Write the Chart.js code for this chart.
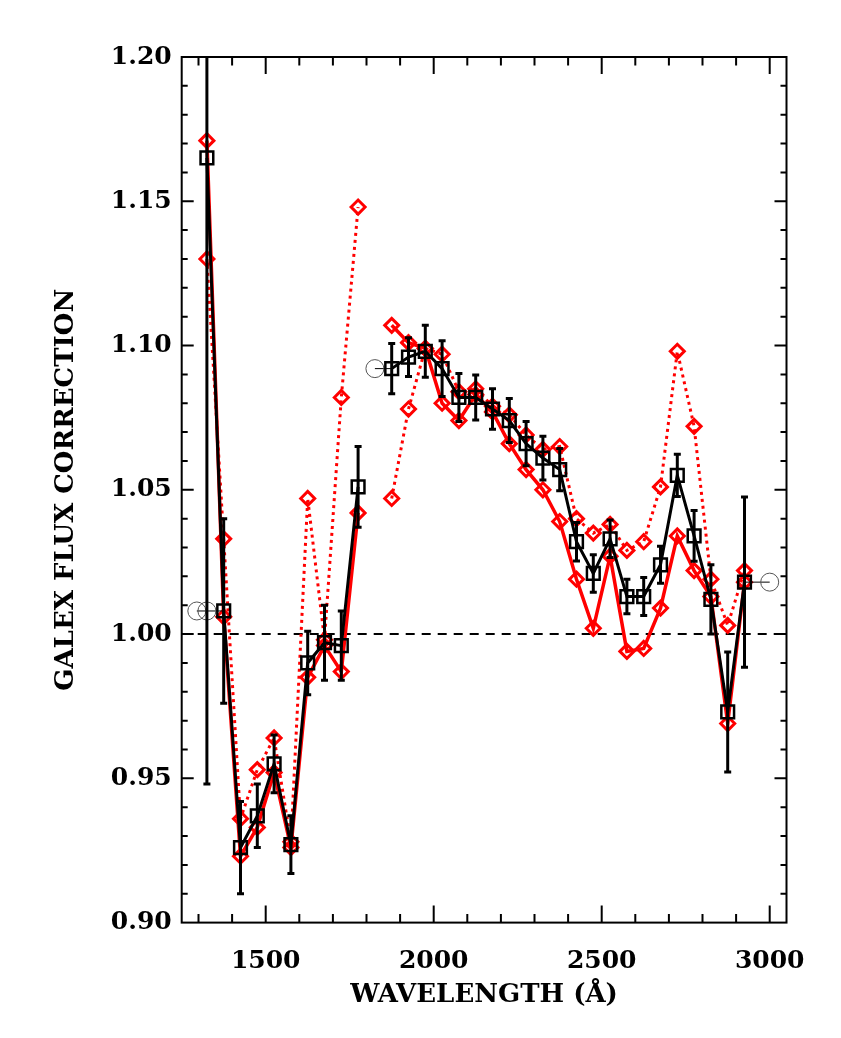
<!DOCTYPE html>
<html>
<head>
<meta charset="utf-8">
<script src="https://cdn.jsdelivr.net/npm/chart.js@4.4.1/dist/chart.umd.min.js"></script>
<style>
  html, body { margin: 0; padding: 0; background: #fff; }
  #wrap { width: 841px; height: 1038px; }
</style>
</head>
<body>
<div id="wrap"><canvas id="chart" width="841" height="1038"></canvas></div>
<script>
// FUV bins
const fuvWave = [1325, 1375, 1425, 1475, 1525, 1575, 1625, 1675, 1725, 1775];
const fuvCorr = [1.165, 1.008, 0.926, 0.937, 0.955, 0.927, 0.990, 0.997, 0.996, 1.051];
const fuvErr = [0.217, 0.032, 0.016, 0.011, 0.010, 0.010, 0.011, 0.013, 0.012, 0.014];
const fuvRedSolid = [1.171, 1.006, 0.923, 0.933, 0.952, 0.926, 0.985, 0.996, 0.987, 1.042];
const fuvRedDotted = [1.130, 1.033, 0.936, 0.953, 0.964, 0.928, 1.047, 0.998, 1.082, 1.148];

// NUV bins
const nuvWave = [1875, 1925, 1975, 2025, 2075, 2125, 2175, 2225, 2275, 2325, 2375,
                 2425, 2475, 2525, 2575, 2625, 2675, 2725, 2775, 2825, 2875, 2925];
const nuvCorr = [1.092, 1.096, 1.098, 1.092, 1.082, 1.082, 1.078, 1.074, 1.066, 1.061, 1.057,
                 1.032, 1.021, 1.033, 1.013, 1.013, 1.024, 1.055, 1.034, 1.012, 0.973, 1.018];
const nuvErr = [0.0087, 0.0067, 0.009, 0.0097, 0.0083, 0.0078, 0.007, 0.0076, 0.0077, 0.0076, 0.0073,
                0.0067, 0.0065, 0.0065, 0.006, 0.0066, 0.0064, 0.0073, 0.0088, 0.012, 0.0208, 0.0295];
const nuvRedSolid = [1.107, 1.101, 1.099, 1.080, 1.074, 1.083, 1.077, 1.066, 1.057, 1.050, 1.039,
                     1.019, 1.002, 1.027, 0.994, 0.995, 1.009, 1.034, 1.022, 1.013, 0.969, 1.018];
const nuvRedDotted = [1.047, 1.078, 1.099, 1.097, 1.084, 1.085, 1.079, 1.076, 1.069, 1.064, 1.065,
                      1.040, 1.035, 1.038, 1.029, 1.032, 1.051, 1.098, 1.072, 1.019, 1.003, 1.022];

// extension points (open circles)
const extWave = [1295, 1325, 1825, 3000];
const extCorr = [1.008, 1.008, 1.092, 1.018];

const yTicks = [0.90, 0.95, 1.00, 1.05, 1.10, 1.15, 1.20];
const xTicks = [1500, 2000, 2500, 3000];

const pts = (xs, ys) => xs.map((v, i) => ({x: v, y: ys[i]}));
const RED = '#ff0000';
const FONT = 'DejaVu Serif';

function squares(data) {
  return { data: data, showLine: true, borderColor: '#000', borderWidth: 3,
    pointStyle: 'rect', pointRadius: 9, pointBorderWidth: 2.5,
    pointBorderColor: '#000', pointBackgroundColor: 'rgba(0,0,0,0)' };
}
function diamonds(data, dotted) {
  return { data: data, showLine: true, borderColor: RED, borderWidth: dotted ? 3 : 3.5,
    borderDash: dotted ? [3, 4] : [],
    pointStyle: 'rectRot', pointRadius: 7, pointBorderWidth: 3,
    pointBorderColor: RED, pointBackgroundColor: 'rgba(0,0,0,0)' };
}
function circles(data, radii) {
  return { data: data, showLine: true, borderColor: '#000', borderWidth: 1,
    pointStyle: 'circle', pointRadius: radii, pointBorderWidth: 1,
    pointBorderColor: '#555', pointBackgroundColor: 'rgba(0,0,0,0)' };
}

const errorBars = {
  id: 'errorBars',
  beforeDatasetsDraw(chart) {
    const {ctx, chartArea: a, scales: {y}} = chart;
    const py = y.getPixelForValue(1.0);
    ctx.save();
    ctx.strokeStyle = '#000';
    ctx.lineWidth = 2;
    ctx.setLineDash([9, 7]);
    ctx.beginPath();
    ctx.moveTo(a.left, py);
    ctx.lineTo(a.right, py);
    ctx.stroke();
    ctx.restore();
  },
  afterDatasetsDraw(chart) {
    const {ctx, chartArea: a, scales: {x, y}} = chart;
    ctx.save();
    ctx.beginPath();
    ctx.rect(a.left, a.top, a.right - a.left, a.bottom - a.top);
    ctx.clip();
    ctx.strokeStyle = '#000';
    ctx.lineWidth = 3;
    const draw = (ws, cs, es) => {
      ws.forEach((w, i) => {
        const px = x.getPixelForValue(w);
        const top = y.getPixelForValue(cs[i] + es[i]);
        const bot = y.getPixelForValue(cs[i] - es[i]);
        ctx.beginPath();
        ctx.moveTo(px, top); ctx.lineTo(px, bot);
        ctx.moveTo(px - 3.5, top); ctx.lineTo(px + 3.5, top);
        ctx.moveTo(px - 3.5, bot); ctx.lineTo(px + 3.5, bot);
        ctx.stroke();
      });
    };
    draw(fuvWave, fuvCorr, fuvErr);
    draw(nuvWave, nuvCorr, nuvErr);
    ctx.restore();
  }
};

const frameTicks = {
  id: 'frameTicks',
  afterDraw(chart) {
    const {ctx, chartArea: a, scales: {x, y}} = chart;
    ctx.save();
    ctx.strokeStyle = '#000';
    ctx.lineWidth = 2;
    ctx.strokeRect(a.left, a.top, a.right - a.left, a.bottom - a.top);
    ctx.beginPath();
    for (let v = 1300; v <= 3000; v += 100) {
      const px = x.getPixelForValue(v);
      const len = v % 500 === 0 ? 17 : 8.5;
      ctx.moveTo(px, a.bottom); ctx.lineTo(px, a.bottom - len);
      ctx.moveTo(px, a.top); ctx.lineTo(px, a.top + len);
    }
    for (let i = 1; i < 30; i++) {
      const py = y.getPixelForValue(0.9 + i * 0.01);
      const len = i % 5 === 0 ? 12 : 6;
      ctx.moveTo(a.left, py); ctx.lineTo(a.left + len, py);
      ctx.moveTo(a.right, py); ctx.lineTo(a.right - len, py);
    }
    ctx.stroke();
    ctx.restore();
  }
};

new Chart(document.getElementById('chart'), {
  type: 'scatter',
  data: {
    datasets: [
      squares(pts(fuvWave, fuvCorr)),
      squares(pts(nuvWave, nuvCorr)),
      circles([{x: extWave[0], y: extCorr[0]}, {x: extWave[1], y: extCorr[1]}, {x: fuvWave[1], y: fuvCorr[1]}], [9, 9, 0]),
      circles([{x: extWave[2], y: extCorr[2]}, {x: nuvWave[0], y: nuvCorr[0]}], [9, 0]),
      circles([{x: extWave[3], y: extCorr[3]}, {x: nuvWave[nuvWave.length - 1], y: nuvCorr[nuvCorr.length - 1]}], [9, 0]),
      diamonds(pts(fuvWave, fuvRedSolid), false),
      diamonds(pts(nuvWave, nuvRedSolid), false),
      diamonds(pts(fuvWave, fuvRedDotted), true),
      diamonds(pts(nuvWave, nuvRedDotted), true)
    ]
  },
  options: {
    responsive: false,
    animation: false,
    layout: { padding: { left: 0, right: 54.5, top: 57, bottom: 0 } },
    plugins: { legend: { display: false }, tooltip: { enabled: false } },
    scales: {
      x: {
        type: 'linear', min: 1250, max: 3050,
        grid: { display: false, drawTicks: false },
        border: { display: false },
        afterFit: s => { s.height = 115.4; },
        afterBuildTicks: s => { s.ticks = xTicks.map(v => ({value: v})); },
        ticks: { padding: 24, color: '#000', maxRotation: 0, autoSkip: false,
          callback: v => String(v),
          font: { family: FONT, size: 25, weight: 'bold' } },
        title: { display: true, text: 'WAVELENGTH (Å)', color: '#000',
          padding: { top: 0, bottom: 27 },
          font: { family: FONT, size: 26, weight: 'bold' } }
      },
      y: {
        type: 'linear', min: 0.9, max: 1.2,
        grid: { display: false, drawTicks: false },
        border: { display: false },
        afterFit: s => { s.width = 181.7; },
        afterBuildTicks: s => { s.ticks = yTicks.map(v => ({value: v})); },
        ticks: { padding: 10, color: '#000', autoSkip: false,
          callback: v => v.toFixed(2),
          font: { family: FONT, size: 25, weight: 'bold' } },
        title: { display: true, text: 'GALEX FLUX CORRECTION', color: '#000',
          padding: { top: 51, bottom: 0 },
          font: { family: FONT, size: 26, weight: 'bold' } }
      }
    }
  },
  plugins: [errorBars, frameTicks]
});
</script>
</body>
</html>
